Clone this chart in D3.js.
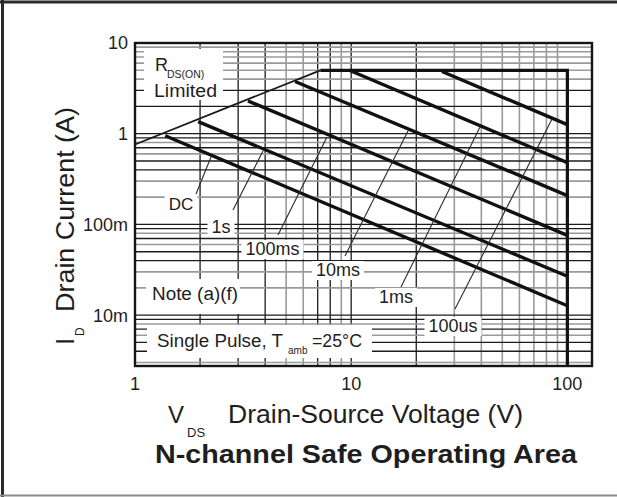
<!DOCTYPE html>
<html><head><meta charset="utf-8">
<script src="https://cdn.jsdelivr.net/npm/d3@7"></script>
<style>
body{margin:0;background:#fff}
svg{display:block}
text{font-family:"Liberation Sans",Arial,Helvetica,sans-serif;fill:#1e1e1e}
</style>
</head><body>
<svg id="c" width="617" height="497"></svg>
<script>
// ---------- data ----------
const xDomain = [1, 130];
const yDomain = [0.00275, 10];
const xTickValues = [1, 10, 100];
const xTickLabels = ["1", "10", "100"];
const yTickValues = [0.01, 0.1, 1, 10];
const yTickLabels = ["10m", "100m", "1", "10"];

const pulseNames  = ["DC", "1s", "100ms", "10ms", "1ms", "100us"];
const pulseStartV = [1.38, 1.96, 3.33, 5.5, 9.8, 26.3];
const pulseStartI = [0.95, 1.36, 2.3, 3.76, 5.0, 4.85];
const pulseEndV   = [100, 100, 100, 100, 100, 100];
const pulseEndI   = [0.0127, 0.0268, 0.0757, 0.208, 0.48, 1.26];

const rdsV   = [1, 7.2];
const rdsI   = [0.76, 5.0];
const limitV = [7.2, 100, 100];
const limitI = [5.0, 5.0, 0.00275];

// ---------- drawing ----------
const svg = d3.select("#c");
const L = 135, R = 592, T = 43, B = 366;
const x = d3.scaleLog().domain(xDomain).range([L, R]);
const y = d3.scaleLog().domain(yDomain).range([B, T]);

// outer frame
svg.append("line").attr("x1",2.5).attr("x2",2.5).attr("y1",0).attr("y2",497).attr("stroke","#2a2a2a").attr("stroke-width",3);
svg.append("line").attr("x1",0).attr("x2",617).attr("y1",2).attr("y2",2).attr("stroke","#2a2a2a").attr("stroke-width",3);
svg.append("line").attr("x1",0).attr("x2",617).attr("y1",495.5).attr("y2",495.5).attr("stroke","#8a8a8a").attr("stroke-width",2);

const mant = v => Math.round(v / Math.pow(10, Math.floor(Math.log10(v) + 1e-9)));
const BLACK = {c:"#1c1c1c", w:1.3}, GRAY = {c:"#9a9a9a", w:1.6};

// vertical grid
const vBlack = new Set([1,2,3,4,7,8]);
const grid = svg.append("g");
x.ticks().filter(v => v > 1 && v < 100).forEach(v => {
  const m = mant(v);
  let s = vBlack.has(m) ? BLACK : GRAY;
  if (v > 10 && m !== 2 && m !== 1) s = GRAY;
  grid.append("line").attr("x1", x(v)).attr("x2", x(v)).attr("y1", T).attr("y2", B)
    .attr("stroke", s.c).attr("stroke-width", s.w);
});
// horizontal grid
const hBlack = new Set([1,4,5,7,9]);
y.ticks().filter(v => v > yDomain[0] && v < 10).forEach(v => {
  const m = mant(v);
  let s = hBlack.has(m) ? BLACK : GRAY;
  if (v >= 1 && (m === 2 || m === 3)) s = BLACK;
  if (v >= 1 && m >= 4) s = GRAY;
  grid.append("line").attr("x1", L).attr("x2", R).attr("y1", y(v)).attr("y2", y(v))
    .attr("stroke", s.c).attr("stroke-width", s.w);
});

// white boxes behind annotation texts
const boxes = svg.append("g");
[[144,49,223,100],[146,279,240,314],[147,325,372,358]].forEach(b => {
  boxes.append("rect").attr("x", b[0]).attr("y", b[1]).attr("width", b[2]-b[0]).attr("height", b[3]-b[1]).attr("fill", "#fff");
});

// curves
const line = d3.line().x(d => x(d[0])).y(d => y(d[1]));
svg.append("path").attr("d", line(rdsV.map((v,i) => [v, rdsI[i]])))
  .attr("fill","none").attr("stroke","#1a1a1a").attr("stroke-width",1.8);
svg.append("path").attr("d", line(limitV.map((v,i) => [v, limitI[i]])))
  .attr("fill","none").attr("stroke","#111").attr("stroke-width",3.2);
pulseNames.forEach((n,i) => {
  svg.append("path").attr("d", line([[pulseStartV[i], pulseStartI[i]], [pulseEndV[i], pulseEndI[i]]]))
    .attr("fill","none").attr("stroke","#111").attr("stroke-width",3.4);
});

// plot frame
svg.append("rect").attr("x", L).attr("y", T).attr("width", R-L).attr("height", B-T)
  .attr("fill","none").attr("stroke","#151515").attr("stroke-width",2.4);

// pulse labels with leaders
const labelLayout = {
  "DC":    {tx:181, ty:210, l:[196,194,211,157]},
  "1s":    {tx:221, ty:233, l:[233,210,263,151]},
  "100ms": {tx:272.5, ty:255, l:[278,235,327,137]},
  "10ms":  {tx:338, ty:276, l:[345,256,408,131]},
  "1ms":   {tx:396, ty:303, l:[401,287,480,127]},
  "100us": {tx:453, ty:332, l:[455,309,552,119]}
};
const lab = svg.append("g");
pulseNames.forEach(n => {
  const p = labelLayout[n];
  const t = lab.append("text").attr("x", p.tx).attr("y", p.ty).attr("text-anchor","middle")
    .attr("font-size", n === "DC" ? 17 : 18).text(n);
  const bb = t.node().getBBox();
  lab.insert("rect", "text").attr("x", bb.x-4).attr("y", bb.y+1).attr("width", bb.width+8).attr("height", bb.height-1).attr("fill","#fff");
  lab.append("line").attr("x1", p.l[0]).attr("y1", p.l[1]).attr("x2", p.l[2]).attr("y2", p.l[3])
    .attr("stroke","#2a2a2a").attr("stroke-width",1.1);
});

// other annotations
const ann = svg.append("g");
ann.append("text").attr("x",155).attr("y",71).attr("font-size",18).text("R");
ann.append("text").attr("x",167).attr("y",78).attr("font-size",10.5).text("DS(ON)");
ann.append("text").attr("x",154).attr("y",97).attr("font-size",18).attr("textLength",63).attr("lengthAdjust","spacingAndGlyphs").text("Limited");
ann.append("text").attr("x",152).attr("y",300).attr("font-size",18).attr("textLength",86).attr("lengthAdjust","spacingAndGlyphs").text("Note (a)(f)");
ann.append("text").attr("x",157).attr("y",347).attr("font-size",18).attr("textLength",126).attr("lengthAdjust","spacingAndGlyphs").text("Single Pulse, T");
ann.append("text").attr("x",288).attr("y",354).attr("font-size",10).text("amb");
ann.append("text").attr("x",312).attr("y",347).attr("font-size",18).attr("textLength",50).attr("lengthAdjust","spacingAndGlyphs").text("=25°C");

// tick labels
yTickValues.forEach((v,i) => {
  svg.append("text").attr("x",128).attr("y", y(v)).attr("dy","0.36em").attr("text-anchor","end")
    .attr("font-size",18).text(yTickLabels[i]);
});
xTickValues.forEach((v,i) => {
  svg.append("text").attr("x", x(v)).attr("y",390).attr("text-anchor","middle")
    .attr("font-size",18).text(xTickLabels[i]);
});

// axis titles
const yt = svg.append("g");
yt.append("text").attr("transform","translate(74,345) rotate(-90)").attr("font-size",26).text("I");
yt.append("text").attr("transform","translate(84,336) rotate(-90)").attr("font-size",12).text("D");
yt.append("text").attr("transform","translate(74,312) rotate(-90)").attr("font-size",26)
  .attr("textLength",205).attr("lengthAdjust","spacingAndGlyphs").text("Drain Current (A)");

svg.append("text").attr("x",168).attr("y",423).attr("font-size",24).text("V");
svg.append("text").attr("x",187).attr("y",437).attr("font-size",13).text("DS");
svg.append("text").attr("x",228).attr("y",423).attr("font-size",25)
  .attr("textLength",295).attr("lengthAdjust","spacingAndGlyphs").text("Drain-Source Voltage (V)");

svg.append("text").attr("x",155).attr("y",463).attr("font-size",26).attr("font-weight","bold")
  .attr("textLength",422).attr("lengthAdjust","spacingAndGlyphs").text("N-channel Safe Operating Area");
</script>
</body></html>
